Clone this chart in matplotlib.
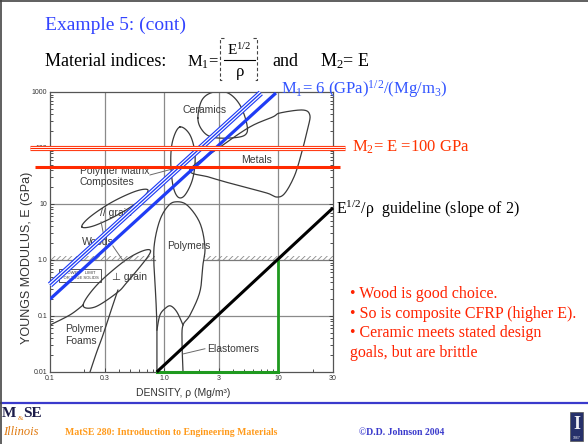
import numpy as np
import matplotlib
matplotlib.use("Agg")
import matplotlib.pyplot as plt
from matplotlib.lines import Line2D
from matplotlib.patches import Rectangle

plt.rcParams['mathtext.fontset'] = 'custom'
plt.rcParams['mathtext.rm'] = 'Liberation Serif'
plt.rcParams['mathtext.it'] = 'Liberation Serif:italic'
plt.rcParams['mathtext.default'] = 'rm'
plt.rcParams['hatch.linewidth'] = 0.6

SERIF = 'Liberation Serif'
SANS = ['Liberation Sans', 'DejaVu Sans']

# material property bubbles, (density Mg/m^3, modulus GPa)
ceramics_rho = [1.97, 2.14, 2.67, 3.61, 4.6, 5.3, 5.1, 3.8, 2.6, 2.14]
ceramics_E = [343, 720, 990, 960, 586, 258, 171, 151, 157, 210]

metals_rho = [1.68, 3.0, 5.6, 8.9, 10.3, 16.3, 18.8, 18.1, 16.0, 13.9, 11.4, 9.7, 7.9, 4.3, 2.5]
metals_E = [40.5, 100, 237, 358, 422, 477, 388, 228, 85, 33, 15.7, 13.3, 15.7, 21.8, 30]

composites_rho = [1.37, 1.68, 1.86, 1.78, 1.52, 1.32, 1.19, 1.14, 1.19]
composites_E = [237, 171, 75, 29, 14.5, 13.3, 21.8, 61, 139]

wood_par_rho = [0.19, 0.222, 0.346, 0.562, 0.72, 0.62, 0.396, 0.244]
wood_par_E = [3.9, 5.8, 10.7, 16.9, 17.8, 11.8, 6.5, 4.1]

wood_perp_rho = [0.195, 0.258, 0.436, 0.613, 0.75, 0.706, 0.472, 0.386, 0.248]
wood_perp_E = [0.157, 0.36, 0.92, 1.39, 1.51, 1.09, 0.40, 0.26, 0.145]

polymers_rho = [0.863, 0.863, 0.846, 0.81, 0.829, 0.917, 1.06, 1.24, 1.58, 2.05, 2.27, 2.18, 2.05, 1.68, 1.46, 1.43, 1.46]
polymers_E = [0.01, 0.056, 0.19, 1.0, 2.28, 5.2, 8.8, 10.9, 9.6, 4.6, 1.71, 0.81, 0.27, 0.104, 0.069, 0.037, 0.01]

elastomers_rho = [0.863, 0.917, 1.03, 1.14, 1.29, 1.46]
elastomers_E = [0.056, 0.104, 0.139, 0.151, 0.118, 0.069]

foams_top_rho = [0.1, 0.15, 0.195]
foams_top_E = [0.069, 0.105, 0.157]
foams_side_rho = [0.393, 0.348, 0.291, 0.255, 0.224]
foams_side_E = [0.29, 0.139, 0.046, 0.022, 0.01]

# design lines
m1_rho = [0.1, 9.5]
m1_E = [0.2, 960]
m1_band_rho = [0.1, 7.0]
m1_band_E = [0.36, 960]
m2_rho = [0.067, 37.9]
m2_E = [100, 100]
e_line_rho = [0.074, 34.4]
e_line_E = [46, 46]
guide_rho = [0.86, 30]
guide_E = [0.01, 8.5]
green_v_rho = [10, 10]
green_v_E = [0.011, 1.0]
green_h_rho = [0.86, 10]
green_h_E = [0.01, 0.01]

x_ticks = [0.1, 0.3, 1, 3, 10, 30]
x_labels = ['0.1', '0.3', '1.0', '3', '10', '30']
y_ticks = [0.01, 0.1, 1, 10, 100, 1000]
y_labels = ['0.01', '0.1', '1.0', '10', '100', '1000']

bullets = ['\u2022 Wood is good choice.',
           '\u2022 So is composite CFRP (higher E).',
           '\u2022 Ceramic meets stated design',
           'goals, but are brittle']

BLUE = '#1f3cf5'
RED = '#ff2a00'
GREEN = '#1f9a1f'
INK = '#3a3a3a'


def smooth(rho, E, closed, n=12):
    # Catmull-Rom through the outline points, done in log space
    P = np.column_stack([np.log10(rho), np.log10(E)])
    if closed:
        P = np.vstack([P[-1], P, P[0], P[1]])
    else:
        P = np.vstack([P[0], P, P[-1]])
    t = np.linspace(0, 1, n, endpoint=False)[:, None]
    segs = []
    for i in range(1, len(P) - 2):
        p0, p1, p2, p3 = P[i - 1], P[i], P[i + 1], P[i + 2]
        segs.append(0.5 * (2 * p1 + (p2 - p0) * t
                           + (2 * p0 - 5 * p1 + 4 * p2 - p3) * t ** 2
                           + (3 * p1 - p0 - 3 * p2 + p3) * t ** 3))
    segs.append(P[-2][None])
    S = np.vstack(segs)
    return 10 ** S[:, 0], 10 ** S[:, 1]


def outline(ax, rho, E, closed=True):
    x, y = smooth(rho, E, closed)
    ax.plot(x, y, color=INK, lw=0.9, zorder=2)


def triple(ax, x, y, color, w):
    kw = dict(solid_capstyle='butt', clip_on=False, zorder=6)
    ax.plot(x, y, color=color, lw=w, **kw)
    ax.plot(x, y, color='white', lw=w * 0.62, **kw)
    ax.plot(x, y, color=color, lw=w * 0.22, **kw)


fig = plt.figure(figsize=(5.88, 4.44), dpi=100)
ax = fig.add_axes([50 / 588, 72 / 444, 283 / 588, 280 / 444])
ax.set_xscale('log')
ax.set_yscale('log')
ax.set_xlim(0.1, 30)
ax.set_ylim(0.01, 1000)

for v in [0.3, 1, 3, 10]:
    ax.axvline(v, color='#8a8a8a', lw=0.9, zorder=1)
for v in [0.1, 10, 100]:
    ax.axhline(v, color='#8a8a8a', lw=0.9, zorder=1)

# lower limit for true solids
for a, b in [(0.1, 0.83), (2.22, 30)]:
    ax.plot([a, b], [1, 1], color='#7a7a7a', lw=0.9, zorder=1)
    ax.fill_between([a, b], 1, 1.17, facecolor='none', edgecolor='#8a8a8a',
                    hatch='//////', linewidth=0, zorder=1)
ax.text(0.183, 0.53, 'LOWER    LIMIT\nFOR TRUE SOLIDS', fontsize=3, family=SANS,
        ha='center', va='center', color=INK, linespacing=1.2,
        bbox=dict(boxstyle='square,pad=0.5', fc='white', ec=INK, lw=0.6), zorder=2)

outline(ax, ceramics_rho, ceramics_E)
outline(ax, metals_rho, metals_E)
outline(ax, composites_rho, composites_E)
outline(ax, wood_par_rho, wood_par_E)
outline(ax, wood_perp_rho, wood_perp_E)
outline(ax, polymers_rho, polymers_E, closed=False)
outline(ax, elastomers_rho, elastomers_E, closed=False)
outline(ax, foams_top_rho, foams_top_E, closed=False)
outline(ax, foams_side_rho, foams_side_E, closed=False)

lab = dict(fontsize=7.5, family=SANS, color=INK, zorder=3)
ax.text(2.27, 477, 'Ceramics', ha='center', va='center', **lab)
ax.text(6.47, 61, 'Metals', ha='center', va='center', **lab)
ax.text(0.183, 38.8, 'Polymer Matrix', ha='left', va='center', **lab)
ax.text(0.183, 24.7, 'Composites', ha='left', va='center', **lab)
ax.text(0.274, 6.9, '// grain', ha='left', va='center', **lab)
ax.text(0.19, 2.1, 'Woods', ha='left', va='center', **lab)
ax.text(0.348, 0.50, '\u22a5 grain', ha='left', va='center', **lab)
ax.text(1.65, 1.78, 'Polymers', ha='center', va='center', **lab)
ax.text(2.36, 0.0258, 'Elastomers', ha='left', va='center', **lab)
ax.text(0.135, 0.0586, 'Polymer', ha='left', va='center', **lab)
ax.text(0.135, 0.0358, 'Foams', ha='left', va='center', **lab)
for xs, ys in [([0.75, 1.17], [33, 42]), ([0.297, 0.28], [2.6, 4.8]),
               ([0.355, 0.444], [1.78, 0.92]), ([2.27, 1.46], [0.026, 0.021])]:
    ax.plot(xs, ys, color='#6a6a6a', lw=0.7, zorder=2)

# index lines
ax.plot(m1_rho, m1_E, color=BLUE, lw=2.3, solid_capstyle='butt', zorder=6)
triple(ax, m1_band_rho, m1_band_E, BLUE, 4.4)
ax.plot(e_line_rho, e_line_E, color=RED, lw=2.2, solid_capstyle='butt',
        clip_on=False, zorder=6)
triple(ax, m2_rho, m2_E, RED, 3.7)
ax.plot(guide_rho, guide_E, color='black', lw=2.2, solid_capstyle='butt',
        clip_on=False, zorder=6)
ax.plot(green_v_rho, green_v_E, color=GREEN, lw=2.0, clip_on=False, zorder=5)
ax.plot(green_h_rho, green_h_E, color=GREEN, lw=2.2, clip_on=False, zorder=5)

ax.set_xticks(x_ticks)
ax.set_xticklabels(x_labels)
ax.set_yticks(y_ticks)
ax.set_yticklabels(y_labels)
ax.tick_params(which='both', direction='in', right=True, top=False,
               labelsize=5, colors='#333333', width=0.6)
ax.tick_params(which='major', length=3, pad=2)
ax.tick_params(which='minor', length=2.5)
for s in ax.spines.values():
    s.set_color('#555555')
    s.set_linewidth(0.9)
for t in ax.get_xticklabels() + ax.get_yticklabels():
    t.set_family(SANS)

fig.text(27 / 588, 1 - 258 / 444, 'YOUNGS MODULUS, E (GPa)', rotation=90,
         ha='center', va='center', fontsize=9, family=SANS, color='#333333')
fig.text(183 / 588, 1 - 393 / 444, 'DENSITY, \u03c1 (Mg/m\u00b3)', ha='center',
         va='center', fontsize=7.5, family=SANS, color='#333333')

# slide heading
fig.text(45 / 588, 1 - 25 / 444, 'Example 5: (cont)', fontsize=14, family=SERIF,
         color='#3344ff', va='center')
fig.text(45 / 588, 1 - 66 / 444, 'Material indices:', fontsize=13, family=SERIF,
         va='baseline')
fig.text(187 / 588, 1 - 67 / 444, 'M$_1$=', fontsize=12, family=SERIF, va='baseline')
fig.text(239 / 588, 1 - 50 / 444, 'E$^{1/2}$', fontsize=11, family=SERIF,
         ha='center', va='center')
fig.text(240 / 588, 1 - 72 / 444, '\u03c1', fontsize=12, family=SERIF,
         ha='center', va='center')
fig.add_artist(Line2D([224 / 588, 255 / 588], [1 - 60 / 444] * 2,
                      color='black', lw=0.8))
for bx, d in [(220, 4), (257, -4)]:
    X = [(bx + d) / 588, bx / 588, bx / 588, (bx + d) / 588]
    Y = [1 - 38 / 444, 1 - 38 / 444, 1 - 80 / 444, 1 - 80 / 444]
    fig.add_artist(Line2D(X, Y, color='#444444', lw=0.8, ls=(0, (3, 2))))
fig.text(272 / 588, 1 - 66 / 444, 'and', fontsize=13, family=SERIF, va='baseline')
fig.text(320 / 588, 1 - 66 / 444, 'M$_2$= E', fontsize=13, family=SERIF, va='baseline')

fig.text(281 / 588, 1 - 89 / 444, 'M$_1$= 6 (GPa)$^{1/2}$/(Mg/m$_3$)', fontsize=12,
         family=SERIF, color='#3355ff', va='center')
fig.text(352 / 588, 1 - 147 / 444, 'M$_2$= E =100 GPa', fontsize=12,
         family=SERIF, color='#ff3300', va='center')
fig.text(336 / 588, 1 - 209 / 444, 'E$^{1/2}$/\u03c1  guideline (slope of 2)',
         fontsize=11.5, family=SERIF, color='black', va='center')
for i, line in enumerate(bullets):
    fig.text(350 / 588, 1 - (294 + 19.5 * i) / 444, line, fontsize=11.5,
             family=SERIF, color='#ff2200', va='center')

# footer
fig.add_artist(Line2D([0, 1], [1 - 403 / 444] * 2, color='#3a3acc', lw=1.6))
fig.text(2 / 588, 1 - 413 / 444, 'M', fontsize=11, family=SERIF, weight='bold',
         color='#1c1c4a', va='center')
fig.text(17.5 / 588, 1 - 418 / 444, '&', fontsize=5, family=SERIF, color='#e07a10',
         va='center')
fig.text(23 / 588, 1 - 413 / 444, 'SE', fontsize=11, family=SERIF, weight='bold',
         color='#1c1c4a', va='center')
fig.text(3 / 588, 1 - 432 / 444, 'Illinois', fontsize=9, family=SERIF,
         style='italic', color='#e07a10', va='center')
fig.text(65 / 588, 1 - 432 / 444, 'MatSE 280: Introduction to Engineering Materials',
         fontsize=7, family=SERIF, weight='bold', color='#ff9a1a', va='center')
fig.text(359 / 588, 1 - 432 / 444, '\u00a9D.D. Johnson 2004', fontsize=7,
         family=SERIF, weight='bold', color='#3a3acc', va='center')
fig.add_artist(Rectangle((570 / 588, 1 - 441 / 444), 13 / 588, 29 / 444,
                         facecolor='#26306a', edgecolor='#555555', lw=0.5))
fig.text(576.5 / 588, 1 - 424 / 444, 'I', fontsize=13, family=SERIF, weight='bold',
         color='#f0f0f5', ha='center', va='center')
fig.text(576.5 / 588, 1 - 438 / 444, '1867', fontsize=2.5, family=SANS,
         color='#f0f0f5', ha='center', va='center')

# slide border
fig.add_artist(Line2D([1 / 588, 1 / 588], [0, 1], color='#444444', lw=1.2))
fig.add_artist(Line2D([0, 1], [1 - 1 / 444] * 2, color='#444444', lw=1.2))

fig.savefig('out.png', dpi=100)
